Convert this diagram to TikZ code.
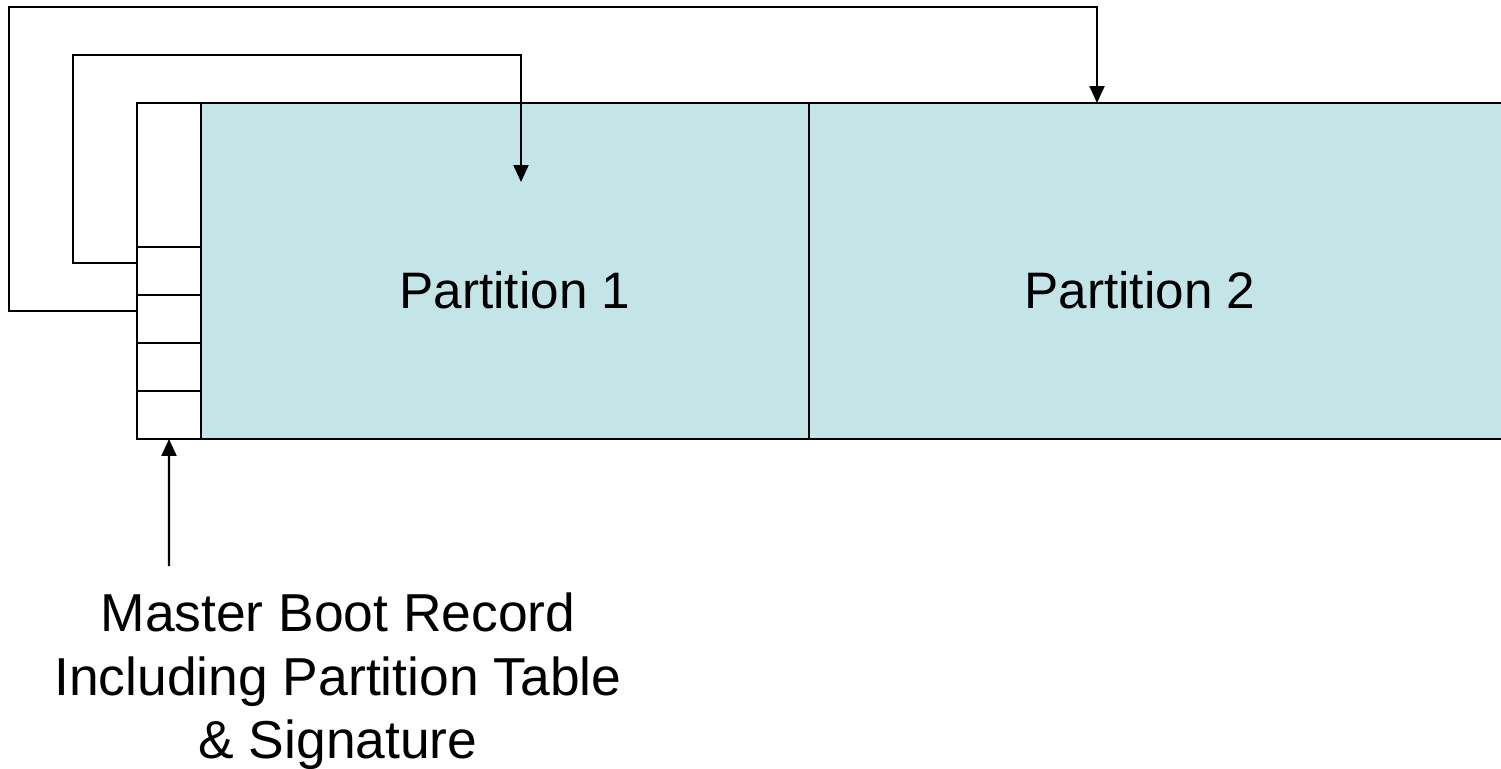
\documentclass[tikz,border=0pt]{standalone}
\usepackage{fontspec}
\setmainfont{Liberation Sans}
\usetikzlibrary{arrows.meta}
\definecolor{partfill}{RGB}{196,229,232}

\begin{document}
\begin{tikzpicture}[x=0.02cm, y=-0.02cm]
      \fontsize{29.2}{36.4}\selectfont
      \tikzstyle{cell}=[draw, line width=1.2pt, fill=white, minimum width=1.28cm, inner sep=0pt, outer sep=0pt, anchor=north west]
      \tikzstyle{part}=[draw, line width=1.2pt, fill=partfill, minimum height=6.72cm, inner sep=0pt, outer sep=0pt, anchor=north west]
      \tikzstyle{arrow}=[line width=1.2pt, -{Triangle[length=0.34cm, width=0.3cm]}]
      \useasboundingbox (0,0) rectangle (1501,768);
      \clip (0,0) rectangle (1501,768);

      \node[part, minimum width=12.16cm] (p1) at (201, 103) {};
      \node[part, minimum width=14.5cm]  (p2) at (809, 103) {};
      \node[anchor=base] (p1text) at (515, 308) {Partition 1};
      \node[anchor=base] (p2text) at (1140, 308) {Partition 2};

      % master boot record and its table entries
      \node[cell, minimum height=2.88cm] (mbr0) at (137, 103) {};
      \foreach \i in {1,...,4}
        \node[cell, minimum height=0.96cm] (mbr\i) at (137, {247+48*(\i-1)}) {};

      \node[align=center, anchor=north, inner sep=0pt, font=\fontsize{30.4}{36.4}\selectfont] (mbrlabel) at (338, 592)
        {Master Boot Record\\Including Partition Table\\\& Signature};

      \coordinate (entry1) at (137, 263);
      \coordinate (entry2) at (137, 311);
      \coordinate (p1target) at (521, 182);
      \coordinate (p2target) at (1097, 103);
      \coordinate (mbrtail) at (169, 566);

      \draw[arrow] (entry1) -| (73, 55) -| (p1target);
      \draw[arrow] (entry2) -| (9, 7) -| (p2target);
      \draw[arrow] (mbrtail) -- (mbr4.south);
    \end{tikzpicture}
\end{document}
